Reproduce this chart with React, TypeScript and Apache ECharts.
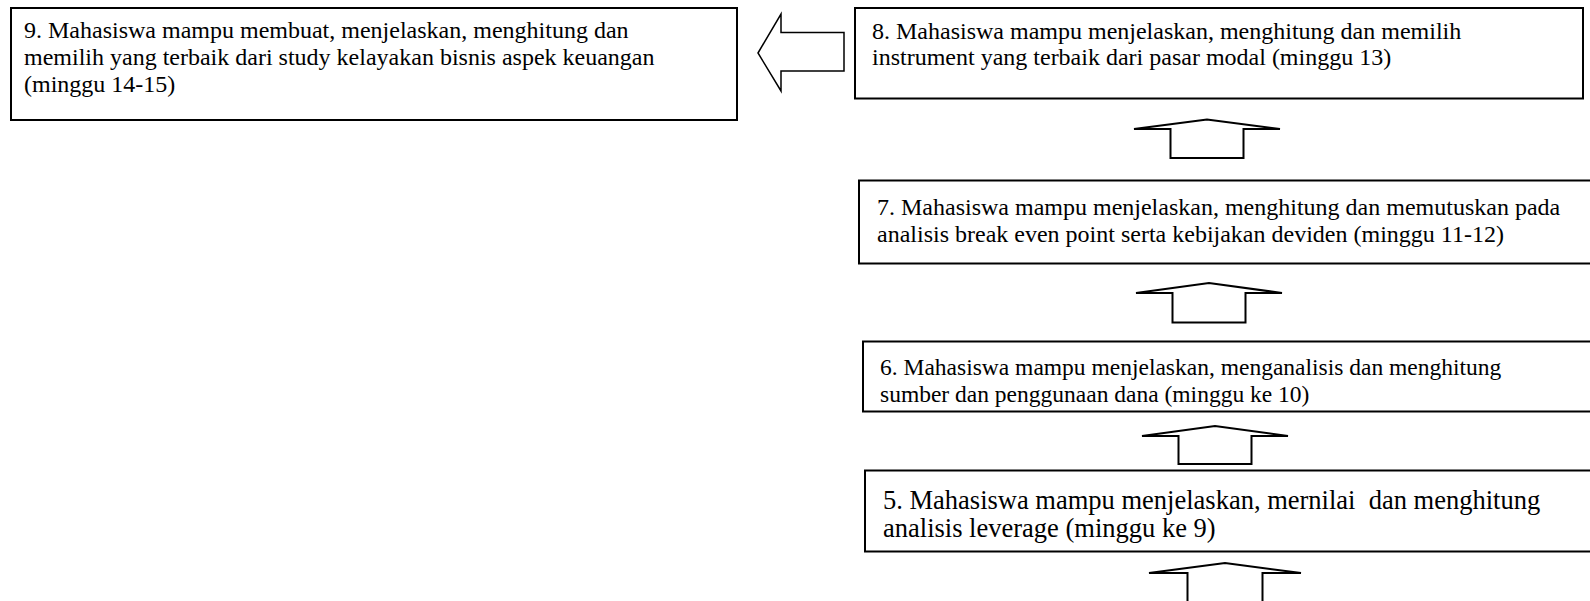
import React, { useEffect, useRef } from "react";
import * as echarts from "echarts";

// Text content of each box (lines as in the reference)
const box9Lines = [
  "9. Mahasiswa mampu membuat, menjelaskan, menghitung dan",
  "memilih yang terbaik dari study kelayakan bisnis aspek keuangan",
  "(minggu 14-15)",
];
const box8Lines = [
  "8. Mahasiswa mampu menjelaskan, menghitung dan memilih",
  "instrument yang terbaik dari pasar modal (minggu 13)",
];
const box7Lines = [
  "7. Mahasiswa mampu menjelaskan, menghitung dan memutuskan pada",
  "analisis break even point serta kebijakan deviden (minggu 11-12)",
];
const box6Lines = [
  "6. Mahasiswa mampu menjelaskan, menganalisis dan menghitung",
  "sumber dan penggunaan dana (minggu ke 10)",
];
const box5Lines = [
  "5. Mahasiswa mampu menjelaskan, mernilai  dan menghitung",
  "analisis leverage (minggu ke 9)",
];

const FONT = "'Liberation Serif', 'Times New Roman', serif";

type BoxLayout = {
  lines: string[];
  x: number; y: number; w: number; h: number;
  tx: number; ty: number; lh: number; fs: number;
};

const boxes: BoxLayout[] = [
  { lines: box9Lines, x: 11, y: 8, w: 726, h: 112, tx: 24, ty: 29.5, lh: 27, fs: 24 },
  { lines: box8Lines, x: 855, y: 8, w: 728, h: 90.5, tx: 872, ty: 30.5, lh: 26.5, fs: 24 },
  { lines: box7Lines, x: 859, y: 180.5, w: 760, h: 83, tx: 877, ty: 207, lh: 27, fs: 24 },
  { lines: box6Lines, x: 863, y: 341.5, w: 760, h: 70, tx: 880, ty: 367, lh: 26.5, fs: 23.5 },
  { lines: box5Lines, x: 865, y: 470.5, w: 760, h: 81, tx: 883, ty: 500, lh: 27.5, fs: 26.5 },
];

type UpArrow = { cx: number; apex: number; base: number; bottom: number; hh: number; hs: number };
const upArrows: UpArrow[] = [
  { cx: 1207, apex: 119.5, base: 129, bottom: 158, hh: 73, hs: 36.5 },
  { cx: 1209, apex: 283, base: 293, bottom: 322.5, hh: 73, hs: 36.5 },
  { cx: 1215, apex: 426, base: 436, bottom: 464, hh: 73, hs: 36.5 },
  { cx: 1225, apex: 563, base: 573, bottom: 620, hh: 76, hs: 37.5 },
];

const leftArrow = { tipX: 758, tipY: 53, headX: 781, headTop: 14, headBot: 91, shaftTop: 32.5, shaftBot: 71, tailX: 844 };

export default function App() {
  const ref = useRef<HTMLDivElement>(null);
  useEffect(() => {
    if (!ref.current) return;
    const chart = echarts.init(ref.current, undefined, { renderer: "svg" });
    const elements: any[] = [];
    boxes.forEach((b) => {
      elements.push({
        type: "rect",
        shape: { x: b.x, y: b.y, width: b.w, height: b.h },
        style: { fill: "#fff", stroke: "#000", lineWidth: 2 },
      });
      b.lines.forEach((line, i) => {
        elements.push({
          type: "text",
          x: b.tx,
          y: b.ty + i * b.lh,
          style: {
            text: line,
            fill: "#000",
            font: `${b.fs}px ${FONT}`,
            textVerticalAlign: "middle",
            textAlign: "left",
          },
        });
      });
    });
    upArrows.forEach((a) => {
      elements.push({
        type: "polygon",
        shape: {
          points: [
            [a.cx - a.hh, a.base],
            [a.cx, a.apex],
            [a.cx + a.hh, a.base],
            [a.cx + a.hs, a.base],
            [a.cx + a.hs, a.bottom],
            [a.cx - a.hs, a.bottom],
            [a.cx - a.hs, a.base],
          ],
        },
        style: { fill: "#fff", stroke: "#000", lineWidth: 2, lineJoin: "miter" },
      });
    });
    const L = leftArrow;
    elements.push({
      type: "polygon",
      shape: {
        points: [
          [L.tipX, L.tipY],
          [L.headX, L.headTop],
          [L.headX, L.shaftTop],
          [L.tailX, L.shaftTop],
          [L.tailX, L.shaftBot],
          [L.headX, L.shaftBot],
          [L.headX, L.headBot],
        ],
      },
      style: { fill: "#fff", stroke: "#000", lineWidth: 1.5 },
    });
    chart.setOption({
      animation: false,
      backgroundColor: "#fff",
      graphic: { elements },
    });
    return () => chart.dispose();
  }, []);
  return (
    <div
      ref={ref}
      style={{ position: "absolute", left: 0, top: 0, width: 1590, height: 601, background: "#fff" }}
    />
  );
}
